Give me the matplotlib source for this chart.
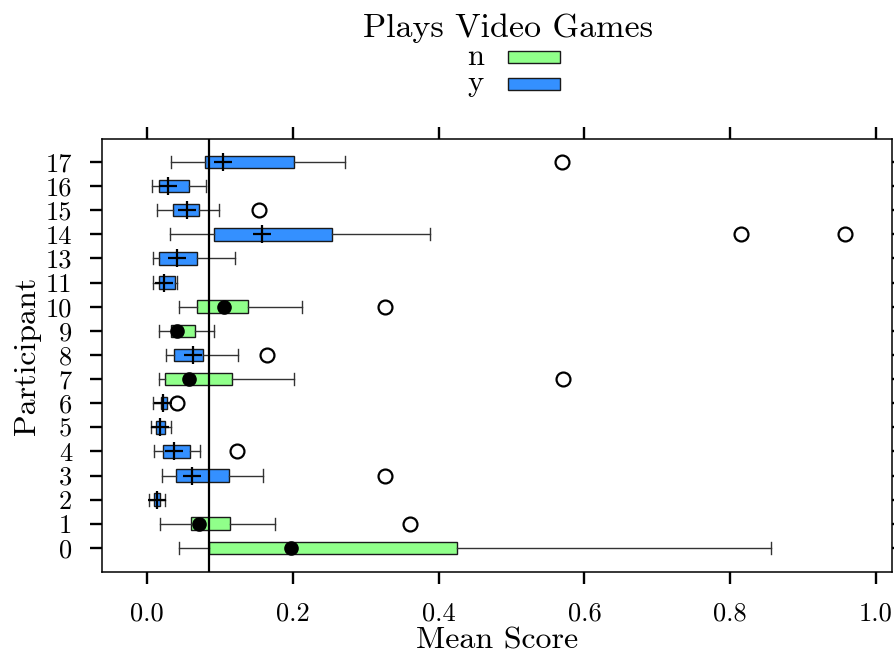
import matplotlib
matplotlib.use("Agg")
import matplotlib.pyplot as plt
from matplotlib.patches import Rectangle

plt.rcParams["font.family"] = ["cmr10", "DejaVu Serif"]
plt.rcParams["axes.formatter.use_mathtext"] = True

# Per-participant summary of the mean score distribution
participants = ["0", "1", "2", "3", "4", "5", "6", "7", "8", "9",
                "10", "11", "13", "14", "15", "16", "17"]
plays_games = ["n", "n", "y", "y", "y", "y", "y", "n", "y", "n",
               "n", "y", "y", "y", "y", "y", "y"]
whisker_lo = [0.043, 0.018, 0.003, 0.020, 0.010, 0.005, 0.008, 0.016, 0.026, 0.016,
              0.043, 0.008, 0.008, 0.031, 0.013, 0.007, 0.033]
q1 = [0.085, 0.060, 0.010, 0.040, 0.022, 0.012, 0.019, 0.024, 0.037, 0.032,
      0.068, 0.016, 0.016, 0.092, 0.036, 0.016, 0.079]
median = [0.197, 0.071, 0.013, 0.062, 0.037, 0.018, 0.022, 0.058, 0.063, 0.041,
          0.105, 0.023, 0.041, 0.157, 0.055, 0.028, 0.104]
q3 = [0.425, 0.113, 0.017, 0.112, 0.059, 0.025, 0.027, 0.117, 0.076, 0.065,
      0.138, 0.038, 0.068, 0.253, 0.071, 0.057, 0.201]
whisker_hi = [0.856, 0.176, 0.025, 0.159, 0.073, 0.032, 0.036, 0.201, 0.124, 0.092,
              0.213, 0.041, 0.120, 0.388, 0.099, 0.081, 0.272]
outliers = [[], [0.361], [], [0.327], [0.123], [], [0.041], [0.571], [0.164], [],
            [0.326], [], [], [0.815, 0.957], [0.154], [], [0.569]]
reference_score = 0.0844

x_ticks = [0.0, 0.2, 0.4, 0.6, 0.8, 1.0]
x_tick_labels = ["0.0", "0.2", "0.4", "0.6", "0.8", "1.0"]
legend_title = "Plays Video Games"
legend_groups = ["n", "y"]

group_colors = {"n": "#90FF8A", "y": "#3490FF"}
group_markers = {"n": dict(marker="o", markersize=9.5, markerfacecolor="black",
                           markeredgecolor="black", linestyle="none"),
                 "y": dict(marker="+", markersize=13, markeredgewidth=1.6,
                           markeredgecolor="black", linestyle="none")}

W, H = 894, 655
fig = plt.figure(figsize=(W / 100, H / 100), dpi=100)
ax = fig.add_axes([102 / W, 1 - 572 / H, (892 - 102) / W, (572 - 139) / H])

for i, g in enumerate(plays_games):
    stats = [dict(whislo=whisker_lo[i], q1=q1[i], med=median[i], q3=q3[i],
                  whishi=whisker_hi[i], fliers=outliers[i])]
    ax.bxp(stats, positions=[i], vert=False, widths=0.52, patch_artist=True,
           showfliers=True, capwidths=0.5,
           boxprops=dict(facecolor=group_colors[g], edgecolor="#1a1a1a", linewidth=1.0),
           whiskerprops=dict(color="#333333", linewidth=1.0),
           capprops=dict(color="#333333", linewidth=1.0),
           medianprops=dict(linewidth=0),
           flierprops=dict(marker="o", markersize=10, markerfacecolor="white",
                           markeredgecolor="black", markeredgewidth=1.6))
    ax.plot([median[i]], [i], zorder=5, **group_markers[g])

ax.axvline(reference_score, color="black", linewidth=1.6, zorder=6)

ax.set_xlim(-0.062, 1.022)
ax.set_ylim(-1, 16.95)
ax.set_xticks(x_ticks)
ax.set_xticklabels(x_tick_labels)
ax.set_yticks(range(len(participants)))
ax.set_yticklabels(participants)

ax.tick_params(axis="x", which="both", direction="out", length=8.6, width=1.7,
               top=True, labeltop=False, labelsize=19, pad=13)
ax.tick_params(axis="y", which="both", direction="out", length=8.6, width=1.7,
               right=True, labelright=False, labelsize=19, pad=13)
for s in ax.spines.values():
    s.set_linewidth(1.1)

ax.set_xlabel("Mean Score", fontsize=23, labelpad=1)
ax.set_ylabel("Participant", fontsize=23, labelpad=3)

# Key: title line, then one row per group with a filled swatch to the right
fig.text(508 / W, 1 - 37 / H, legend_title, ha="center", va="baseline", fontsize=24.5)
row_baselines = [65, 91]
swatch_tops = [51, 78]
for g, base, top in zip(legend_groups, row_baselines, swatch_tops):
    fig.text(467 / W, 1 - base / H, g, ha="left", va="baseline", fontsize=22)
    fig.add_artist(Rectangle((508 / W, 1 - (top + 12) / H), 52 / W, 12 / H,
                             transform=fig.transFigure, facecolor=group_colors[g],
                             edgecolor="#1a1a1a", linewidth=1.0))

fig.savefig("out.png", dpi=100)
